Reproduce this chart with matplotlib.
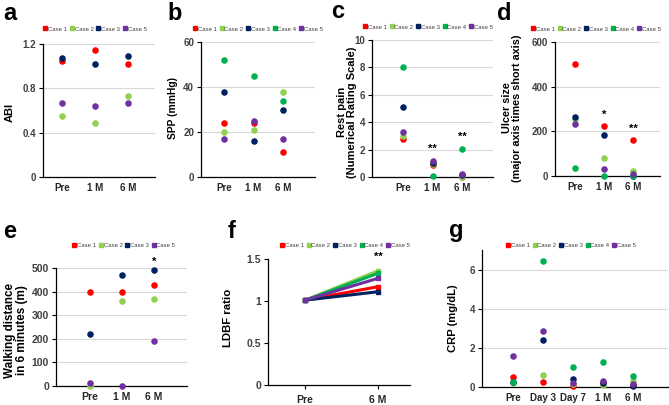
import matplotlib
matplotlib.use('Agg')
import matplotlib.pyplot as plt
import numpy as np

plt.rcParams['font.family'] = ['Liberation Sans', 'DejaVu Sans']

# Colours of the five cases
colors = {1: '#FF0000', 2: '#92D050', 3: '#002060', 4: '#00B050', 5: '#7030A0'}

# a: ABI
abi_times = ['Pre', '1 M', '6 M']
abi = {1: [1.05, 1.15, 1.02], 2: [0.55, 0.49, 0.73], 3: [1.07, 1.02, 1.09], 5: [0.67, 0.64, 0.67]}

# b: SPP
spp_times = ['Pre', '1 M', '6 M']
spp = {1: [24, 24, 11], 2: [20, 21, 38], 3: [38, 16, 30], 4: [52, 45, 34], 5: [17, 25, 17]}

# c: rest pain
pain_times = ['Pre', '1 M', '6 M']
pain = {1: [2.8, 0.85, 0.0], 2: [3.0, 0.95, 0.0], 3: [5.1, 1.05, 0.15], 4: [8.05, 0.05, 2.05], 5: [3.25, 1.15, 0.2]}

# d: ulcer size
ulcer_times = ['Pre', '1 M', '6 M']
ulcer = {1: [500, 222, 160], 2: [255, 80, 22], 3: [265, 183, 0], 4: [38, 2, 0], 5: [235, 33, 10]}

# e: walking distance
walk_times = ['Pre', '1 M', '6 M']
walk = {1: [400, 400, 430], 2: [0, 360, 370], 3: [222, 472, 490], 5: [12, 0, 192]}

# f: LDBF ratio
ldbf_times = ['Pre', '6 M']
ldbf = {1: [1.01, 1.17], 2: [1.01, 1.36], 3: [1.01, 1.11], 4: [1.01, 1.33], 5: [1.01, 1.27]}

# g: CRP
crp_times = ['Pre', 'Day 3', 'Day 7', '1 M', '6 M']
crp = {1: [0.5, 0.28, 0.05, 0.2, 0.1], 2: [0.2, 0.6, 0.15, 0.1, 0.3], 3: [0.25, 2.42, 0.42, 0.2, 0.05],
       4: [0.28, 6.45, 1.0, 1.28, 0.55], 5: [1.6, 2.88, 0.2, 0.3, 0.15]}

W, H = 669, 405
fig = plt.figure(figsize=(W / 100, H / 100), dpi=100)


def make_ax(left, right, top, bottom):
    return fig.add_axes([left / W, 1 - bottom / H, (right - left) / W, (bottom - top) / H])


def style(ax, yticks, ylim, xlim, labels, xticks=False, fs=7):
    ax.set_ylim(*ylim)
    ax.set_xlim(*xlim)
    ax.set_yticks(yticks)
    ax.set_xticks(range(len(labels)))
    ax.set_xticklabels(labels)
    for s in ['top', 'right']:
        ax.spines[s].set_visible(False)
    for s in ['left', 'bottom']:
        ax.spines[s].set_linewidth(0.9)
    ax.yaxis.grid(True, color='#D9D9D9', linewidth=0.8)
    ax.set_axisbelow(True)
    ax.tick_params(axis='y', length=3, width=0.8, labelsize=fs, labelcolor='#404040', pad=2)
    ax.tick_params(axis='x', length=3 if xticks else 0, width=0.8, labelsize=fs, labelcolor='#262626', pad=4)
    for t in ax.get_xticklabels() + ax.get_yticklabels():
        t.set_fontweight('bold')


def scatter_panel(ax, data):
    for c, vals in data.items():
        ax.plot(range(len(vals)), vals, 'o', ls='none', ms=3.7, color=colors[c], label='Case %d' % c,
                clip_on=False, zorder=3)


def legend(ax, cx, cy):
    handles, labels = ax.get_legend_handles_labels()
    hs = [plt.Line2D([], [], marker='s', ls='none', ms=3, color=h.get_color()) for h in handles]
    ax.legend(hs, labels, loc='center', bbox_to_anchor=(cx / W, 1 - cy / H), bbox_transform=fig.transFigure,
              ncol=len(hs), frameon=False, fontsize=4.3, handlelength=0.6, handletextpad=0.15,
              columnspacing=0.5, labelcolor='#404040', borderpad=0)


def letter(x, y, s):
    fig.text(x / W, 1 - y / H, s, fontsize=17, fontweight='bold', ha='left', va='center')


def ylab(x, y, s, fs):
    fig.text(x / W, 1 - y / H, s, fontsize=fs, fontweight='bold', rotation=90, ha='center', va='center',
             linespacing=1.05)


def star(ax, x, y, s):
    ax.text(x, y, s, ha='center', va='center', fontsize=8, fontweight='bold', clip_on=False)


# a
ax = make_ax(43, 155, 44, 177)
scatter_panel(ax, abi)
style(ax, [0, 0.4, 0.8, 1.2], (0, 1.2), (-0.58, 2.82), abi_times)
ax.set_yticklabels(['0', '0.4', '0.8', '1.2'])
legend(ax, 95, 29)
letter(3, 14, 'a')
ylab(10, 112, 'ABI', 8)

# b
ax = make_ax(201, 315, 42, 177)
scatter_panel(ax, spp)
style(ax, [0, 20, 40, 60], (0, 60), (-0.78, 3.08), spp_times)
legend(ax, 258, 29)
letter(167, 14, 'b')
ylab(173, 108, 'SPP (mmHg)', 7.4)

# c
ax = make_ax(372, 493, 40, 177)
scatter_panel(ax, pain)
style(ax, [0, 2, 4, 6, 8, 10], (0, 10), (-1.05, 3.05), pain_times)
star(ax, 1, 2.05, '**')
star(ax, 2, 2.9, '**')
legend(ax, 428, 27)
letter(331, 12, 'c')
ylab(347, 112, 'Rest pain\n(Numerical Rating Scale)', 8.0)

# d
ax = make_ax(555, 660, 42, 176)
scatter_panel(ax, ulcer)
style(ax, [0, 200, 400, 600], (0, 600), (-0.69, 2.93), ulcer_times)
star(ax, 1, 272, '*')
star(ax, 2, 212, '**')
legend(ax, 596, 29)
letter(497, 14, 'd')
ylab(512, 108, 'Ulcer size\n(major axis times short axis)', 7.8)

# e
ax = make_ax(56, 187, 268, 386)
scatter_panel(ax, walk)
style(ax, [0, 100, 200, 300, 400, 500], (0, 500), (-1.06, 3.03), walk_times, fs=7.5)
star(ax, 2, 528, '*')
legend(ax, 124, 245)
letter(3, 232, 'e')
ylab(16, 330, 'Walking distance\nin 6 minutes (m)', 8.4)

# f
ax = make_ax(268, 410, 259, 385)
for c, vals in ldbf.items():
    ax.plot(range(len(vals)), vals, '-s', lw=2.2, ms=3.5, color=colors[c], label='Case %d' % c, clip_on=False)
style(ax, [0, 0.5, 1, 1.5], (0, 1.5), (-0.51, 1.44), ldbf_times, xticks=True, fs=7.5)
ax.yaxis.grid(False)
ax.set_yticklabels(['0', '0.5', '1', '1.5'])
star(ax, 1, 1.53, '**')
legend(ax, 345, 245)
letter(228, 232, 'f')
ylab(228, 318, 'LDBF ratio', 8.2)

# g
ax = make_ax(482, 668, 250, 387)
scatter_panel(ax, crp)
style(ax, [0, 2, 4, 6], (0, 7), (-1.03, 5.17), crp_times)
legend(ax, 571, 245)
letter(449, 230, 'g')
ylab(453, 318, 'CRP (mg/dL)', 8.1)

fig.savefig('out.png', dpi=100)
